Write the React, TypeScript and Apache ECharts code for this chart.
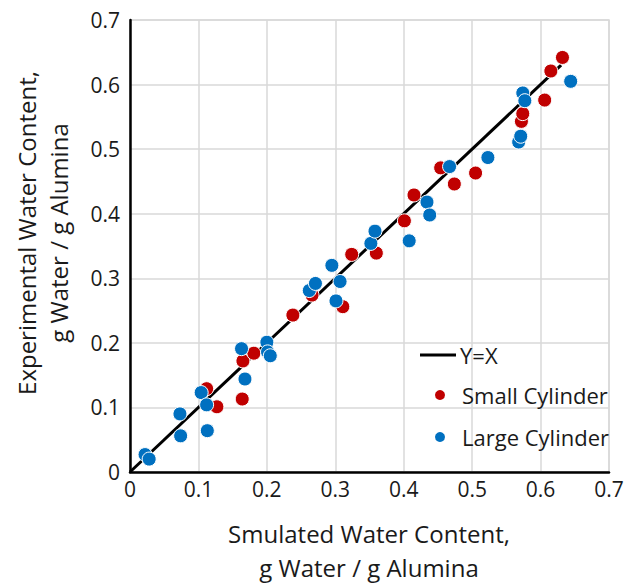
import React, { useEffect, useRef } from "react";
import * as echarts from "echarts";

// Simulated vs. experimental water content (g water / g alumina)
const smallCylinder: [number, number][] = [
  [0.112, 0.129], [0.127, 0.101], [0.165, 0.172], [0.181, 0.184], [0.164, 0.113],
  [0.238, 0.243], [0.266, 0.274], [0.311, 0.256], [0.324, 0.337], [0.36, 0.339],
  [0.401, 0.389], [0.415, 0.429], [0.454, 0.471], [0.474, 0.446], [0.505, 0.463],
  [0.572, 0.543], [0.574, 0.555], [0.606, 0.576], [0.615, 0.621], [0.632, 0.642],
];

const largeCylinder: [number, number][] = [
  [0.022, 0.027], [0.028, 0.02], [0.073, 0.09], [0.074, 0.056], [0.104, 0.123],
  [0.112, 0.104], [0.113, 0.064], [0.163, 0.191], [0.168, 0.144], [0.2, 0.201],
  [0.201, 0.186], [0.205, 0.18], [0.262, 0.281], [0.271, 0.292], [0.295, 0.32],
  [0.307, 0.295], [0.301, 0.265], [0.352, 0.354], [0.358, 0.373], [0.408, 0.358],
  [0.434, 0.418], [0.438, 0.398], [0.467, 0.473], [0.523, 0.487], [0.568, 0.511],
  [0.571, 0.52], [0.574, 0.587], [0.577, 0.575], [0.644, 0.605],
];

const identityLine: [number, number][] = [
  [0, 0],
  [0.63, 0.63],
];

const FONT = "'Open Sans', 'Noto Sans', sans-serif";
const RED = "#C00000";
const BLUE = "#0070C0";

export default function App() {
  const ref = useRef<HTMLDivElement>(null);

  useEffect(() => {
    if (!ref.current) return;
    const chart = echarts.init(ref.current, undefined, { renderer: "svg" });

    const valueAxis = {
      type: "value" as const,
      min: 0,
      max: 0.7,
      interval: 0.1,
      axisLine: { show: true, lineStyle: { color: "#000", width: 2.5 } },
      axisTick: { show: false },
      splitLine: { show: true, lineStyle: { color: "#d9d9d9", width: 1.5 } },
      axisLabel: {
        color: "#1a1a1a",
        fontFamily: FONT,
        fontSize: 21,
        formatter: (v: number) => (v === 0 ? "0" : String(Math.round(v * 10) / 10)),
      },
    };

    chart.setOption({
      animation: false,
      backgroundColor: "#fff",
      grid: {
        left: 130,
        right: 18,
        top: 20,
        bottom: 113,
        show: true,
        borderColor: "#d9d9d9",
        borderWidth: 1.5,
      },
      xAxis: {
        ...valueAxis,
        axisLabel: { ...valueAxis.axisLabel, margin: 6 },
      },
      yAxis: {
        ...valueAxis,
        axisLabel: { ...valueAxis.axisLabel, margin: 10 },
      },
      legend: [
        {
          data: [{ name: "Y=X", icon: "rect" }],
          left: 420,
          top: 344,
          padding: 0,
          itemWidth: 36,
          itemHeight: 3,
          itemGap: 0,
          textStyle: {
            fontFamily: FONT,
            fontSize: 22,
            lineHeight: 22,
            color: "#1a1a1a",
            padding: [0, 0, 0, -1],
          },
        },
        {
          data: ["Small Cylinder", "Large Cylinder"],
          orient: "vertical",
          left: 433,
          top: 384,
          padding: 0,
          itemWidth: 12,
          itemHeight: 12,
          itemGap: 20,
          icon: "circle",
          textStyle: {
            fontFamily: FONT,
            fontSize: 22,
            lineHeight: 22,
            color: "#1a1a1a",
            padding: [0, 0, 0, 11],
          },
        },
      ],
      graphic: [
        {
          type: "text",
          x: 369,
          y: 550,
          style: {
            text: "Smulated Water Content,\ng Water / g Alumina",
            font: `24px ${FONT}`,
            fill: "#1a1a1a",
            textAlign: "center",
            textVerticalAlign: "middle",
            lineHeight: 34,
          },
        },
        {
          type: "text",
          x: 42,
          y: 233,
          rotation: Math.PI / 2,
          style: {
            text: "Experimental Water Content,\ng Water / g Alumina",
            font: `24px ${FONT}`,
            fill: "#1a1a1a",
            textAlign: "center",
            textVerticalAlign: "middle",
            lineHeight: 32,
          },
        },
      ],
      series: [
        {
          name: "Y=X",
          type: "line",
          data: identityLine,
          symbol: "none",
          lineStyle: { color: "#000", width: 3 },
          itemStyle: { color: "#000" },
          z: 2,
        },
        {
          name: "Small Cylinder",
          type: "scatter",
          data: smallCylinder,
          symbolSize: 14,
          itemStyle: { color: RED, borderColor: "#fff", borderWidth: 1, opacity: 1 },
          z: 3,
        },
        {
          name: "Large Cylinder",
          type: "scatter",
          data: largeCylinder,
          symbolSize: 14,
          itemStyle: { color: BLUE, borderColor: "#fff", borderWidth: 1, opacity: 1 },
          z: 4,
        },
      ],
    });

    return () => chart.dispose();
  }, []);

  return (
    <div
      ref={ref}
      style={{ position: "fixed", left: 0, top: 0, width: 627, height: 585 }}
    />
  );
}
